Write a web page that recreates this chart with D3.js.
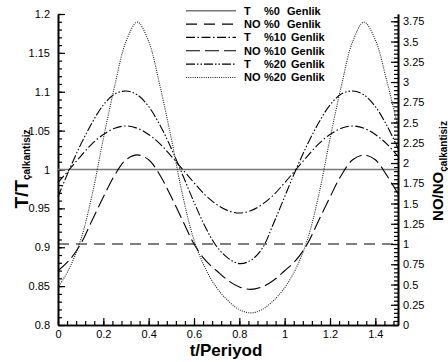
<!DOCTYPE html>
<html>
<head>
<meta charset="utf-8">
<script src="https://cdn.jsdelivr.net/npm/d3@7"></script>
<style>
    body { margin: 0; background: #fff; }
    text { font-family: Arial, "Liberation Sans", sans-serif; }
</style>
</head>
<body>
<div id="chart"></div>
<script>
// == DATA == //
const tPeriod = [0, 0.05, 0.1, 0.15, 0.2, 0.25, 0.3, 0.35, 0.4, 0.45, 0.5, 0.55, 0.6, 0.65, 0.7, 0.75,
    0.8, 0.85, 0.9, 0.95, 1, 1.05, 1.1, 1.15, 1.2, 1.25, 1.3, 1.35, 1.4, 1.45, 1.5];

// steady (0 %) cases: flat lines
const flatX = [0, 1.5];
const tAmp0 = [1, 1];
const noAmp0 = [1, 1];

// T/T_calkantisiz (left axis)
const tAmp10 = [0.983, 1.000, 1.017, 1.033, 1.045, 1.053, 1.056, 1.053, 1.045, 1.033, 1.017, 1.000, 0.983,
    0.967, 0.955, 0.947, 0.944, 0.947, 0.955, 0.967, 0.983, 1.000, 1.017, 1.033, 1.045, 1.053, 1.056,
    1.053, 1.045, 1.033, 1.017];
const tAmp20 = [0.965, 1.000, 1.032, 1.060, 1.083, 1.097, 1.101, 1.096, 1.081, 1.057, 1.027, 0.993, 0.958,
    0.926, 0.901, 0.886, 0.879, 0.883, 0.898, 0.930, 0.965, 1.000, 1.032, 1.060, 1.083, 1.097, 1.101,
    1.096, 1.081, 1.057, 1.027];

// NO/NO_calkantisiz (right axis)
const noAmp10 = [0.67, 0.80, 1.00, 1.29, 1.58, 1.85, 2.04, 2.10, 2.04, 1.85, 1.58, 1.29, 1.00, 0.80, 0.67,
    0.55, 0.47, 0.44, 0.47, 0.55, 0.67, 0.80, 1.00, 1.29, 1.58, 1.85, 2.04, 2.10, 2.04, 1.85, 1.62];
const noAmp20 = [0.46, 0.70, 1.05, 1.60, 2.30, 2.95, 3.50, 3.74, 3.50, 2.95, 2.30, 1.60, 1.05, 0.70, 0.46,
    0.30, 0.19, 0.15, 0.19, 0.30, 0.46, 0.70, 1.05, 1.60, 2.30, 2.95, 3.50, 3.74, 3.52, 3.02, 2.45];

// ticks
const xTicks = [0, 0.2, 0.4, 0.6, 0.8, 1, 1.2, 1.4];
const leftTicks = [0.8, 0.85, 0.9, 0.95, 1, 1.05, 1.1, 1.15, 1.2];
const rightTicks = [0, 0.25, 0.5, 0.75, 1, 1.25, 1.5, 1.75, 2, 2.25, 2.5, 2.75, 3, 3.25, 3.5, 3.75];

const legendLabels = [["T", "%0", "Genlik"], ["NO", "%0", "Genlik"], ["T", "%10", "Genlik"],
    ["NO", "%10", "Genlik"], ["T", "%20", "Genlik"], ["NO", "%20", "Genlik"]];

// == SVG == //
const width = 448, height = 362;
const margin = {top: 14, right: 50, bottom: 37, left: 58};

const svg = d3.select("#chart").append("svg")
    .attr("width", width)
    .attr("height", height);

// scales
const x = d3.scaleLinear().domain([0, 1.5]).range([margin.left, width - margin.right]);
const yL = d3.scaleLinear().domain([0.8, 1.2]).range([height - margin.bottom, margin.top]);
const yR = d3.scaleLinear().domain([0, 3.84]).range([height - margin.bottom, margin.top]);

// == AXES == //
function styleAxis(g) {
    g.select(".domain").attr("stroke", "#000").attr("stroke-width", 1.6);
    g.selectAll(".tick line").attr("stroke", "#000").attr("stroke-width", 1.2);
    g.selectAll(".tick text").attr("font-size", 11).attr("fill", "#000");
}

// minor ticks first
svg.append("g")
    .attr("transform", `translate(${margin.left},0)`)
    .call(d3.axisLeft(yL).tickValues(d3.range(80, 121).map(i => i / 100))
        .tickSize(-4).tickFormat("").tickSizeOuter(0))
    .call(styleAxis);
svg.append("g")
    .attr("transform", `translate(${width - margin.right},0)`)
    .call(d3.axisRight(yR).tickValues(d3.range(0, 77).map(i => i / 20))
        .tickSize(-4).tickFormat("").tickSizeOuter(0))
    .call(styleAxis);
svg.append("g")
    .attr("transform", `translate(0,${height - margin.bottom})`)
    .call(d3.axisBottom(x).tickValues(d3.range(0, 38).map(i => i * 0.04))
        .tickSize(-4).tickFormat("").tickSizeOuter(0))
    .call(styleAxis);

// major ticks
svg.append("g")
    .attr("transform", `translate(${margin.left},0)`)
    .call(d3.axisLeft(yL).tickValues(leftTicks).tickSize(-7).tickPadding(8)
        .tickFormat(d => String(d)).tickSizeOuter(0))
    .call(styleAxis);
svg.append("g")
    .attr("transform", `translate(${width - margin.right},0)`)
    .call(d3.axisRight(yR).tickValues(rightTicks).tickSize(-7).tickPadding(5)
        .tickFormat(d => String(d)).tickSizeOuter(0))
    .call(styleAxis);
svg.append("g")
    .attr("transform", `translate(0,${height - margin.bottom})`)
    .call(d3.axisBottom(x).tickValues(xTicks).tickSize(-7).tickPadding(5)
        .tickFormat(d => String(d)).tickSizeOuter(0))
    .call(styleAxis);

// == LINES == //
const series = [
    {xs: flatX, ys: tAmp0, y: yL, dash: null, color: "#777", w: 1.6},
    {xs: flatX, ys: noAmp0, y: yR, dash: "11,7", color: "#000", w: 1.2},
    {xs: tPeriod, ys: tAmp10, y: yL, dash: "9,2.5,1.5,2.5", color: "#000", w: 1.1},
    {xs: tPeriod, ys: noAmp10, y: yR, dash: "14,5", color: "#000", w: 1.1},
    {xs: tPeriod, ys: tAmp20, y: yL, dash: "9,2,1.5,2,1.5,2", color: "#000", w: 1.1},
    {xs: tPeriod, ys: noAmp20, y: yR, dash: "1,1.2", color: "#222", w: 1.1}
];

series.forEach(s => {
    const line = d3.line()
        .x(d => x(d[0]))
        .y(d => s.y(d[1]))
        .curve(d3.curveCatmullRom);
    svg.append("path")
        .datum(s.xs.map((v, i) => [v, s.ys[i]]))
        .attr("d", line)
        .attr("fill", "none")
        .attr("stroke", s.color)
        .attr("stroke-width", s.w)
        .attr("stroke-dasharray", s.dash);
});

// == LEGEND == //
const legend = svg.append("g").attr("class", "legend");
legendLabels.forEach((lab, i) => {
    const ly = 10.7 + i * 13.35;
    const s = series[i];
    legend.append("line")
        .attr("x1", 186).attr("x2", 236)
        .attr("y1", ly).attr("y2", ly)
        .attr("stroke", s.color)
        .attr("stroke-width", s.w)
        .attr("stroke-dasharray", s.dash);
    const t = legend.append("text")
        .attr("y", ly + 4)
        .attr("font-size", 11)
        .attr("font-weight", "bold");
    t.append("tspan").attr("x", 244).text(lab[0]);
    t.append("tspan").attr("x", 264).text(lab[1]);
    t.append("tspan").attr("x", lab[1] === "%0" ? 287 : 291).text(lab[2]);
});

// == TITLES == //
svg.append("text")
    .attr("x", 226).attr("y", 356)
    .attr("text-anchor", "middle")
    .attr("font-size", 17)
    .attr("font-weight", "bold")
    .text("t/Periyod");

const yTitle = svg.append("text")
    .attr("transform", "translate(28,169) rotate(-90)")
    .attr("text-anchor", "middle")
    .attr("font-weight", "bold");
yTitle.append("tspan").attr("font-size", 19).text("T/T");
yTitle.append("tspan").attr("font-size", 10).attr("dy", 2).text("çalkantisiz");

const y2Title = svg.append("text")
    .attr("transform", "translate(443,171) rotate(-90)")
    .attr("text-anchor", "middle")
    .attr("font-weight", "bold");
y2Title.append("tspan").attr("font-size", 15).text("NO/NO");
y2Title.append("tspan").attr("font-size", 10).attr("dy", 4).text("çalkantisiz");
</script>
</body>
</html>
